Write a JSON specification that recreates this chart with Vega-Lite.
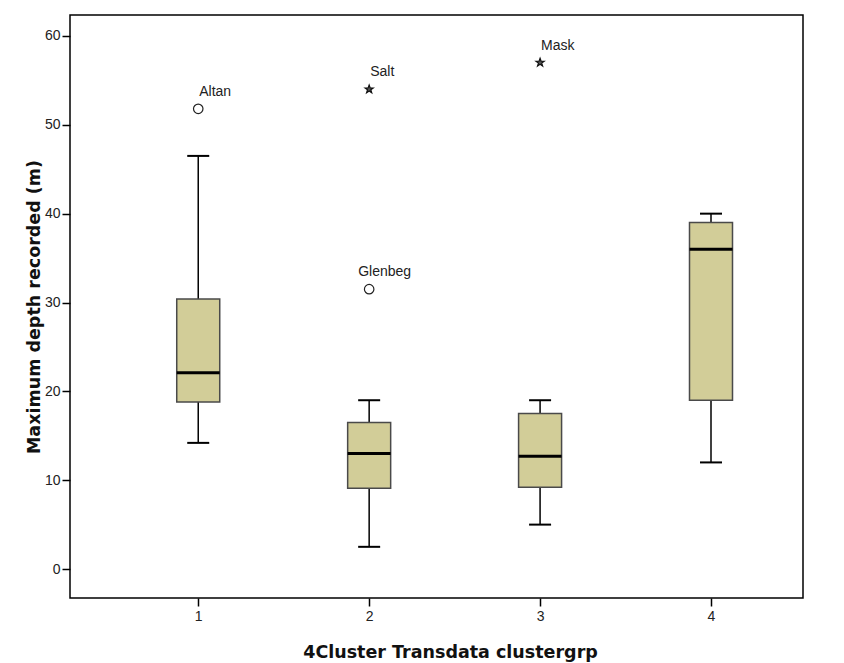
{
  "$schema": "https://vega.github.io/schema/vega-lite/v6.json",
  "autosize": "none",
  "width": 733,
  "height": 583,
  "padding": {"left": 70, "top": 15, "right": 41, "bottom": 65},
  "background": "white",
  "config": {
    "font": "Liberation Sans",
    "view": {"stroke": "#000000", "strokeWidth": 1.5},
    "axis": {
      "domain": false,
      "grid": false,
      "tickColor": "#000000",
      "tickSize": 8,
      "tickWidth": 1.5,
      "labelFont": "Liberation Sans",
      "labelFontSize": 14,
      "labelColor": "#222222",
      "titleFont": "DejaVu Sans",
      "titleFontSize": 17.5,
      "titleFontWeight": "bold",
      "titleColor": "#111111"
    }
  },
  "datasets": {
    "boxes": [
      {"cluster": 1, "low": 14.2, "q1": 18.8, "median": 22.1, "q3": 30.4, "high": 46.5},
      {"cluster": 2, "low": 2.5, "q1": 9.1, "median": 13.0, "q3": 16.5, "high": 19.0},
      {"cluster": 3, "low": 5.0, "q1": 9.2, "median": 12.7, "q3": 17.5, "high": 19.0},
      {"cluster": 4, "low": 12.0, "q1": 19.0, "median": 36.0, "q3": 39.0, "high": 40.0}
    ],
    "outliers": [
      {"cluster": 1, "depth": 51.8, "site": "Altan", "kind": "outlier"},
      {"cluster": 2, "depth": 31.5, "site": "Glenbeg", "kind": "outlier"},
      {"cluster": 2, "depth": 54.0, "site": "Salt", "kind": "extreme"},
      {"cluster": 3, "depth": 57.0, "site": "Mask", "kind": "extreme"}
    ]
  },
  "encoding": {
    "x": {
      "field": "cluster",
      "type": "quantitative",
      "scale": {"domain": [0.279, 4.509], "nice": false, "zero": false},
      "axis": {"values": [1, 2, 3, 4], "format": "d", "labelPadding": 3, "title": "4Cluster Transdata clustergrp", "titlePadding": 20, "titleX": 380, "titleAlign": "center"}
    }
  },
  "layer": [
    {
      "data": {"name": "boxes"},
      "mark": {"type": "rule", "stroke": "#000000", "strokeWidth": 1.5},
      "encoding": {
        "y": {
          "field": "low",
          "type": "quantitative",
          "scale": {"domain": [-3.26, 62.36], "nice": false, "zero": false},
          "axis": {"values": [0, 10, 20, 30, 40, 50, 60], "labelPadding": 2, "title": "Maximum depth recorded (m)", "titlePadding": 1}
        },
        "y2": {"field": "q1"}
      }
    },
    {
      "data": {"name": "boxes"},
      "mark": {"type": "rule", "stroke": "#000000", "strokeWidth": 1.5},
      "encoding": {
        "y": {"field": "q3", "type": "quantitative"},
        "y2": {"field": "high"}
      }
    },
    {
      "data": {"name": "boxes"},
      "mark": {"type": "tick", "orient": "horizontal", "color": "#000000", "thickness": 2, "size": 22, "opacity": 1},
      "encoding": {"y": {"field": "low", "type": "quantitative"}}
    },
    {
      "data": {"name": "boxes"},
      "mark": {"type": "tick", "orient": "horizontal", "color": "#000000", "thickness": 2, "size": 22, "opacity": 1},
      "encoding": {"y": {"field": "high", "type": "quantitative"}}
    },
    {
      "data": {"name": "boxes"},
      "mark": {"type": "bar", "size": 43, "fill": "#D2CD98", "stroke": "#4a4a4a", "strokeWidth": 1.5, "opacity": 1},
      "encoding": {
        "y": {"field": "q1", "type": "quantitative"},
        "y2": {"field": "q3"}
      }
    },
    {
      "data": {"name": "boxes"},
      "mark": {"type": "tick", "orient": "horizontal", "color": "#000000", "thickness": 3, "size": 43, "opacity": 1},
      "encoding": {"y": {"field": "median", "type": "quantitative"}}
    },
    {
      "data": {"name": "outliers"},
      "transform": [{"filter": "datum.kind === 'outlier'"}],
      "mark": {"type": "point", "shape": "circle", "size": 90, "filled": false, "stroke": "#222222", "strokeWidth": 1.2, "opacity": 1},
      "encoding": {"y": {"field": "depth", "type": "quantitative"}}
    },
    {
      "data": {"name": "outliers"},
      "transform": [{"filter": "datum.kind === 'extreme'"}],
      "mark": {"type": "point", "shape": "M0,-1L0.24,-0.33L0.95,-0.31L0.38,0.12L0.59,0.81L0,0.4L-0.59,0.81L-0.38,0.12L-0.95,-0.31L-0.24,-0.33Z", "size": 75, "filled": true, "fill": "#555555", "stroke": "#111111", "strokeWidth": 1.2, "opacity": 1},
      "encoding": {"y": {"field": "depth", "type": "quantitative"}}
    },
    {
      "data": {"name": "outliers"},
      "transform": [{"filter": "datum.site !== 'Glenbeg'"}],
      "mark": {"type": "text", "align": "left", "baseline": "middle", "dx": 1, "dy": -17, "fontSize": 14, "font": "Liberation Sans", "color": "#222222"},
      "encoding": {
        "y": {"field": "depth", "type": "quantitative"},
        "text": {"field": "site"}
      }
    },
    {
      "data": {"name": "outliers"},
      "transform": [{"filter": "datum.site === 'Glenbeg'"}],
      "mark": {"type": "text", "align": "left", "baseline": "middle", "dx": -11, "dy": -17, "fontSize": 14, "font": "Liberation Sans", "color": "#222222"},
      "encoding": {
        "y": {"field": "depth", "type": "quantitative"},
        "text": {"field": "site"}
      }
    }
  ]
}
